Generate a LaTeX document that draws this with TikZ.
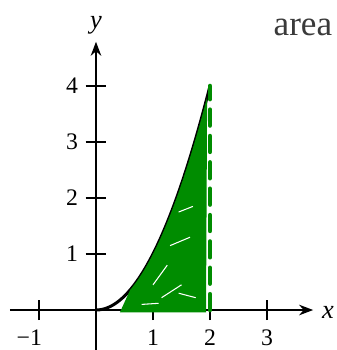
\documentclass[tikz,border=0pt]{standalone}
\usepackage{fontspec}
\setmainfont{Liberation Serif}
\usepackage{xcolor}
\definecolor{ScribbleGreen}{HTML}{008C00}
\definecolor{TextGray}{HTML}{3A3A3A}
\usetikzlibrary{arrows.meta}

\begin{document}
\begin{tikzpicture}[x=1.14cm,y=1.12cm,
  axis/.style={line width=1.1pt,-{Stealth[length=8pt,width=6pt]}},
  tickmark/.style={line width=1.1pt},
  ticklab/.style={font=\fontsize{13.5}{15}\selectfont,inner sep=0pt},
  curve/.style={line width=1.7pt,black},
  scribble/.style={ScribbleGreen,line width=2.6pt,line cap=round}
]
  \useasboundingbox (-1.684,-0.714) rectangle (4.228,5.536);
  % axes
  \coordinate (xs) at (-1.51,0);
  \coordinate (xe) at (3.81,0);
  \coordinate (ys) at (0,-0.72);
  \coordinate (ye) at (0,4.79);
  \draw[axis] (xs)--(xe);
  \draw[axis] (ys)--(ye);
  \node[ticklab,font=\fontsize{15}{17}\selectfont\itshape] (xlab) at (4.07,-0.05) {x};
  \node[ticklab,font=\fontsize{15}{17}\selectfont\itshape] (ylab) at (0.0,5.08) {y};
  % ticks
  \draw[tickmark] (-1,-0.18)--(-1,0.18);
  \draw[tickmark] (1,-0.18)--(1,0.18);
  \draw[tickmark] (2,-0.18)--(2,0.18);
  \draw[tickmark] (3,-0.18)--(3,0.18);
  \draw[tickmark] (-0.18,1)--(0.18,1);
  \draw[tickmark] (-0.18,2)--(0.18,2);
  \draw[tickmark] (-0.18,3)--(0.18,3);
  \draw[tickmark] (-0.18,4)--(0.18,4);
  \node[ticklab] (xm1) at (-1.17,-0.5) {−1};
  \node[ticklab] (x1) at (1,-0.5) {1};
  \node[ticklab] (x2) at (2,-0.5) {2};
  \node[ticklab] (x3) at (3,-0.5) {3};
  \node[ticklab] (y1) at (-0.42,1) {1};
  \node[ticklab] (y2) at (-0.42,2) {2};
  \node[ticklab] (y3) at (-0.42,3) {3};
  \node[ticklab] (y4) at (-0.42,4) {4};
  % curve
  \draw[curve] plot[domain=0:2,samples=40] (\x,{\x*\x});
  % shaded area
  \fill[ScribbleGreen] (0.42,-0.04) -- plot[domain=0.6:1.95,samples=30] (\x,{\x*\x}) -- (1.93,-0.04) -- cycle;
  \draw[white,line width=0.6pt] (1.0,0.45)--(1.25,0.8) (1.15,0.22)--(1.5,0.45) (1.3,1.15)--(1.65,1.3)
    (1.45,1.75)--(1.7,1.85) (0.8,0.1)--(1.1,0.12) (1.45,0.3)--(1.75,0.22);
  \draw[scribble,dash pattern=on 9pt off 6pt] (2,0)--(2,4);
  % label
  \node[inner sep=0pt,text=TextGray,font=\fontsize{20}{24}\selectfont] (area) at (3.63,5.04) {area};
\end{tikzpicture}
\end{document}
